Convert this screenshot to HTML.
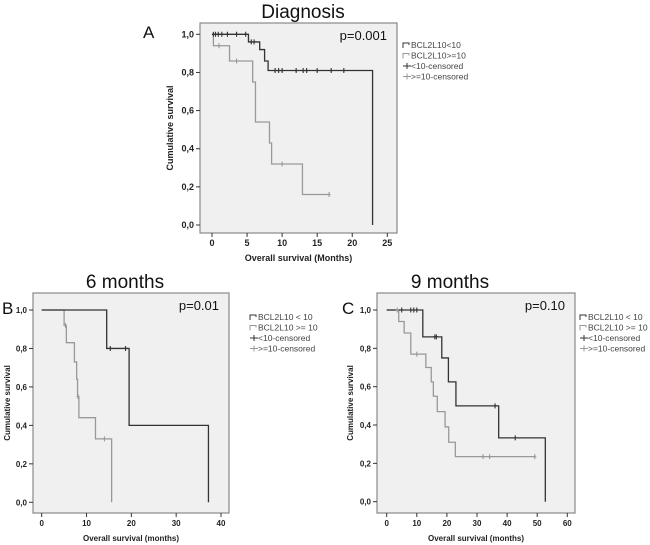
<!DOCTYPE html>
<html><head><meta charset="utf-8"><style>
body{margin:0;background:#fff;width:650px;height:545px;overflow:hidden;font-family:"Liberation Sans",sans-serif}
svg{position:absolute;left:0;top:0}
</style></head><body>
<svg id="c" width="650" height="545"></svg>
<script>
// Panel A data
const aTimes1=[0,5.2,6.8,7.5,8.0,22.9];
const aSurv1=[1.0,0.96,0.92,0.86,0.81,0.0];
const aCens1T=[0.2,0.5,0.9,1.4,2.2,3.5,4.8,5.6,6.0,9.0,9.5,10,12,13,13.5,15,17,18.8];
const aCens1S=[1,1,1,1,1,1,1,0.96,0.96,0.81,0.81,0.81,0.81,0.81,0.81,0.81,0.81,0.81];
const aTimes2=[0,0.2,2.5,5.8,6.2,8.2,8.5,12.9];
const aSurv2=[1.0,0.94,0.86,0.75,0.54,0.43,0.32,0.16];
const aEnd2=16.7;
const aCens2T=[1.0,3.5,10,16.7];
const aCens2S=[0.94,0.86,0.32,0.16];
const aXTicks=[0,5,10,15,20,25];
// Panel B data
const bTimes1=[0,14.5,19.5,37.2];
const bSurv1=[1.0,0.8,0.4,0.0];
const bCens1T=[15.3,18.7];
const bCens1S=[0.8,0.8];
const bTimes2=[0,5,5.5,7.3,7.8,8,8.3,12,15.6];
const bSurv2=[1.0,0.92,0.83,0.73,0.64,0.55,0.44,0.33,0.0];
const bCens2T=[5.3,8.1,14];
const bCens2S=[0.92,0.55,0.33];
const bXTicks=[0,10,20,30,40];
// Panel C data
const cTimes1=[0,12,18.3,20.5,23,37.2,52.7];
const cSurv1=[1.0,0.86,0.75,0.625,0.5,0.333,0.0];
const cCens1T=[5,8,9,10,16,16.5,36,42.7];
const cCens1S=[1,1,1,1,0.86,0.86,0.5,0.333];
const cTimes2=[0,4,5.8,8,13,14.8,15.5,16.8,19.4,20.6,22.8];
const cSurv2=[1.0,0.94,0.88,0.77,0.70,0.625,0.55,0.47,0.39,0.31,0.235];
const cEnd2=49.2;
const cCens2T=[3.5,10,32,34.2,49.2];
const cCens2S=[1,0.77,0.235,0.235,0.235];
const cXTicks=[0,10,20,30,40,50,60];
const yTicks=[0,0.2,0.4,0.6,0.8,1.0];

const NS='http://www.w3.org/2000/svg';
const svg=document.getElementById('c');
function mk(tag,attrs,parent){const e=document.createElementNS(NS,tag);for(const k in attrs)e.setAttribute(k,attrs[k]);(parent||svg).appendChild(e);return e;}
function txt(x,y,s,size,anchor,weight,fill){const t=mk('text',{x:x,y:y,'font-size':size,'text-anchor':anchor||'start','font-weight':weight||'normal',fill:fill||'#000'});t.textContent=s;return t;}

function panel(o){
  const g=mk('g',{});
  
  
  const sx=v=>o.x0+(v-o.xmin)*(o.x1-o.x0)/(o.xmax-o.xmin);
  const sy=v=>o.y0+v*(o.y1-o.y0);
  const box=mk('rect',{x:o.bl,y:o.bt,width:o.br-o.bl,height:o.bb-o.bt,fill:'#f0f0f0',stroke:'#888','stroke-width':1.2},g);
  
  
  yTicks.forEach(v=>{
    const y=sy(v);
    mk('line',{x1:o.bl-4,x2:o.bl,y1:y,y2:y,stroke:'#333'},g);
    const t=txt(o.bl-6,y+3,v.toFixed(1).replace('.',','),o.fs,'end','bold','#222');
    
    
    g.appendChild(t);
  });
  o.xt.forEach(v=>{
    const x=sx(v);
    mk('line',{x1:x,x2:x,y1:o.bb,y2:o.bb+4,stroke:'#333'},g);
    const t=txt(x,o.bb+13,String(v),o.fs,'middle','bold','#222');
    
    
    g.appendChild(t);
  });
  const xt=txt((o.bl+o.br)/2,o.bb+28,o.xtitle,o.fs,'middle','bold','#222');
  
  
  const ymid=(o.bt+o.bb)/2;
  const yt=txt(0,0,'Cumulative survival',o.fs,'middle','bold','#222');
  yt.setAttribute('transform',`translate(${o.bl-o.yto},${ymid}) rotate(-90)`);
  
  
  function curve(T,S,end,col,nm){
    let d=`M${sx(T[0])},${sy(S[0])}`;
    for(let i=1;i<T.length;i++){d+=` H${sx(T[i])} V${sy(S[i])}`;}
    if(end!==undefined)d+=` H${sx(end)}`;
    const p=mk('path',{d:d,fill:'none',stroke:col,'stroke-width':1.3},g);
    
    
  }
  function cens(T,S,col){
    T.forEach((t,i)=>{
      const x=sx(t),y=sy(S[i]);
      const m=mk('path',{d:`M${x},${y-2.5}V${y+2.5}M${x-1.5},${y}H${x+1.5}`,stroke:col,'stroke-width':1.1},g);
      
      
    });
  }
  curve(o.t2,o.s2,o.e2,'#999','curve-high');
  curve(o.t1,o.s1,o.e1,'#333','curve-low');
  cens(o.c2t,o.c2s,'#999');
  cens(o.c1t,o.c1s,'#333');
  const p=txt(o.br-10,o.bt+17,o.p,13,'end','normal','#111');
  
  
  const tt=txt(o.tx,o.ty,o.title,19,'middle','normal','#111');
  
  
  const lb=txt(o.lx,o.ly,o.label,17,'start','normal','#111');
  
  
  const lg=mk('g',{},g);
  
  
  o.leg.forEach((s,i)=>{
    const y=o.legy+i*10.5, x=o.legx;
    const col=(i%2==0)?'#333':'#999';
    if(i<2) mk('path',{d:`M${x},${y+2}V${y-3}H${x+6}V${y-1}`,fill:'none',stroke:col},lg);
    else mk('path',{d:`M${x},${y-1}H${x+8}M${x+4},${y-4}V${y+2}`,stroke:col},lg);
    txt(x+8,y+2,s,8.5,'start','normal','#444');
  });
}
panel({name:'panel-a',bl:200,br:397,bt:23,bb:233,x0:212,x1:387.3,xmin:0,xmax:25,y0:225,y1:34.3,fs:9,yto:27,
  xt:aXTicks,xtitle:'Overall survival (Months)',t1:aTimes1,s1:aSurv1,c1t:aCens1T,c1s:aCens1S,
  t2:aTimes2,s2:aSurv2,e2:aEnd2,c2t:aCens2T,c2s:aCens2S,p:'p=0.001',title:'Diagnosis',tx:303,ty:18,label:'A',lx:143,ly:38,
  leg:['BCL2L10<10','BCL2L10>=10','<10-censored','>=10-censored'],legx:403,legy:46});
panel({name:'panel-b',bl:33,br:229,bt:293,bb:513,x0:41.7,x1:221,xmin:0,xmax:40,y0:502.3,y1:310,fs:8,yto:23,
  xt:bXTicks,xtitle:'Overall survival (months)',t1:bTimes1,s1:bSurv1,c1t:bCens1T,c1s:bCens1S,
  t2:bTimes2,s2:bSurv2,c2t:bCens2T,c2s:bCens2S,p:'p=0.01',title:'6 months',tx:125,ty:288,label:'B',lx:2,ly:314,
  leg:['BCL2L10 < 10','BCL2L10 >= 10','<10-censored','>=10-censored'],legx:250,legy:318});
panel({name:'panel-c',bl:377,br:575,bt:293,bb:513,x0:386.7,x1:567.3,xmin:0,xmax:60,y0:501.7,y1:310,fs:8,yto:24,
  xt:cXTicks,xtitle:'Overall survival (months)',t1:cTimes1,s1:cSurv1,c1t:cCens1T,c1s:cCens1S,
  t2:cTimes2,s2:cSurv2,e2:cEnd2,c2t:cCens2T,c2s:cCens2S,p:'p=0.10',title:'9 months',tx:450,ty:288,label:'C',lx:342,ly:314,
  leg:['BCL2L10 < 10','BCL2L10 >= 10','<10-censored','>=10-censored'],legx:580,legy:318});
</script>
</body></html>
